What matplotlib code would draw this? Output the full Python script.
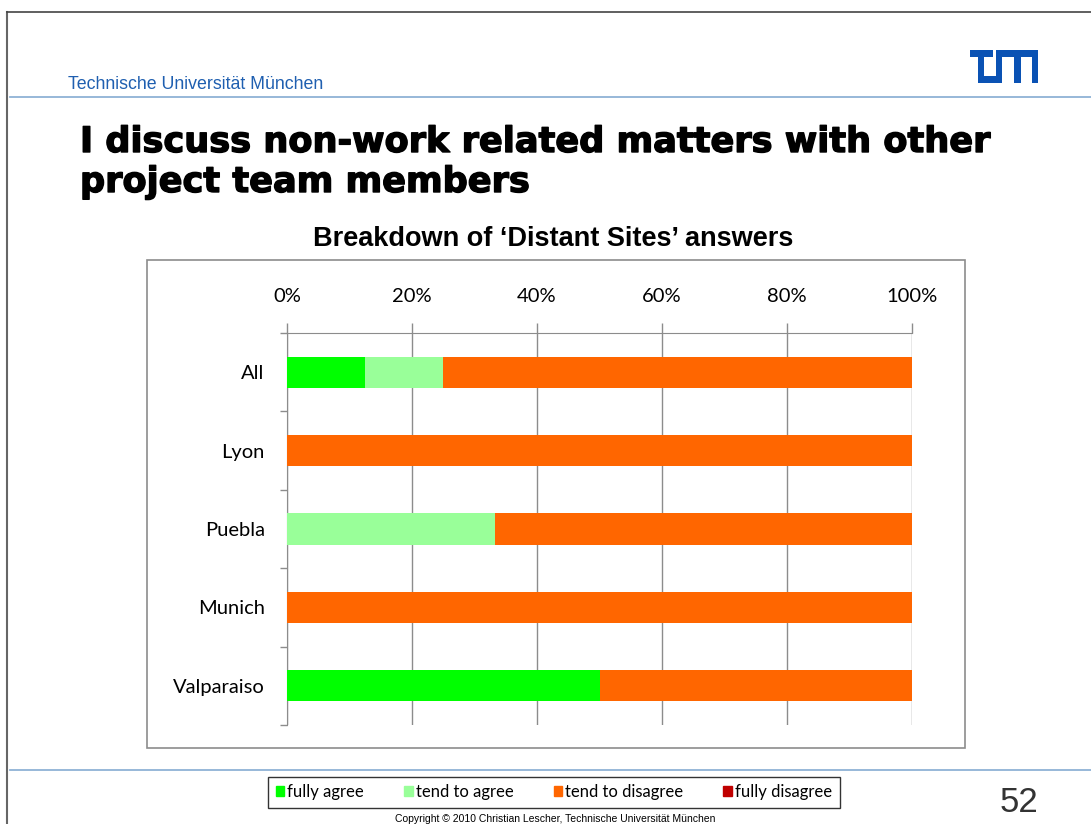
"""Stacked bar slide: non-work talk with project team members"""

import numpy as np
import matplotlib
matplotlib.use('Agg')
import matplotlib.pyplot as plt
import matplotlib.patheffects as pe
from matplotlib.patches import Rectangle
from matplotlib.lines import Line2D

# Data (percent of answers)
categories = ['All', 'Lyon', 'Puebla', 'Munich', 'Valparaiso']
fully_agree = [12.5, 0, 0, 0, 50]
tend_agree = [12.5, 0, 33.3, 0, 0]
tend_disagree = [75, 100, 66.7, 100, 50]
fully_disagree = [0, 0, 0, 0, 0]
series_names = ['fully agree', 'tend to agree', 'tend to disagree', 'fully disagree']
series_colors = ['#00ff00', '#99ff99', '#ff6600', '#c00000']
x_ticks = [0, 20, 40, 60, 80, 100]

W, H = 1091, 824
fig = plt.figure(figsize=(W / 100, H / 100), dpi=100)

def fx(x):
    return x / W

def fy(y):
    return 1 - y / H

# Slide frame and header / footer rules
fig.add_artist(Line2D([fx(7), fx(7)], [fy(12), 0], color='#666666', lw=1.5))
fig.add_artist(Line2D([fx(7), 1], [fy(12), fy(12)], color='#444444', lw=1.2))
fig.add_artist(Line2D([fx(10), 1], [fy(97), fy(97)], color='#8fb2d6', lw=1.3))
fig.add_artist(Line2D([fx(10), 1], [fy(770), fy(770)], color='#8fb2d6', lw=1.3))

fig.text(fx(68), fy(89), 'Technische Universität München', color='#1f5fb0',
         fontsize=12.8, family='Liberation Sans', va='baseline')

# TUM logo from rectangles (pixel offsets: x0, y0, x1, y1)
lx, ly = 970, 50
logo_blocks = [(0, 0, 23, 7), (7.5, 0, 14, 33), (7.5, 26, 32, 33),
               (26, 0, 32, 33), (26, 0, 68, 7), (44, 0, 50.5, 33),
               (61.5, 0, 68, 33)]
for x0, y0, x1, y1 in logo_blocks:
    fig.add_artist(Rectangle((fx(lx + x0), fy(ly + y1)),
                             (x1 - x0) / W, (y1 - y0) / H, color='#0a52b4', lw=0))

# Slide title
heavy = [pe.withStroke(linewidth=1.0, foreground='black')]
fig.text(fx(80), fy(152), 'I discuss non-work related matters with other',
         fontsize=25.3, weight='bold', family='DejaVu Sans', va='baseline',
         path_effects=heavy)
fig.text(fx(80), fy(192), 'project team members',
         fontsize=25.3, weight='bold', family='DejaVu Sans', va='baseline',
         path_effects=heavy)

# Chart area frame
fig.add_artist(Rectangle((fx(147), fy(748)), (965 - 147) / W, (748 - 260) / H,
                         fill=False, edgecolor='#8c8c8c', lw=1.2))
fig.text(fx(553), fy(239), 'Breakdown of \u2018Distant Sites\u2019 answers',
         fontsize=19.5, weight='bold', family='Liberation Sans',
         ha='center', va='center')

ax = fig.add_axes([fx(287), fy(725), (912 - 287) / W, (725 - 333) / H])
y = np.arange(len(categories))
left = np.zeros(len(categories))
for vals, name, col in zip([fully_agree, tend_agree, tend_disagree, fully_disagree],
                           series_names, series_colors):
    ax.barh(y, vals, left=left, height=0.4, color=col, label=name, zorder=3)
    left += np.array(vals)

ax.set_xlim(0, 100)
ax.set_ylim(len(categories) - 0.5, -0.5)
ax.xaxis.tick_top()
ax.set_xticks(x_ticks)
ax.set_xticklabels([f'{t}%' for t in x_ticks], family='Lato', fontsize=14.5)
ax.tick_params(axis='x', length=7, width=1, color='#8c8c8c', pad=13)
ax.set_yticks(y)
ax.set_yticklabels(categories, family='Lato', fontsize=14.5)
ax.tick_params(axis='y', length=0, pad=16)
ax.set_yticks(np.arange(-0.5, len(categories)), minor=True)
ax.tick_params(axis='y', which='minor', length=5, width=1, color='#8c8c8c')
ax.grid(axis='x', color='#8c8c8c', lw=1, zorder=0)
for s in ['right', 'bottom']:
    ax.spines[s].set_visible(False)
for s in ['left', 'top']:
    ax.spines[s].set_color('#8c8c8c')

# Legend below the chart
handles = [Rectangle((0, 0), 1, 1, color=c) for c in series_colors]
leg = fig.legend(handles, series_names, ncol=4, loc='center',
                 bbox_to_anchor=(fx(554), fy(792)), frameon=True, fancybox=False,
                 edgecolor='black', handlelength=0.5, handleheight=0.5,
                 handletextpad=0.2, columnspacing=2.4, borderpad=0.45,
                 prop={'family': 'Lato', 'size': 12})
leg.get_frame().set_linewidth(1.0)

fig.text(fx(555), fy(823.5), 'Copyright \u00a9 2010 Christian Lescher, Technische Universität München',
         fontsize=7.5, family='Liberation Sans', ha='center', va='bottom')
fig.text(fx(1019), fy(803), '52', fontsize=25, color='#333333',
         family='Liberation Sans', ha='center', va='center')

fig.savefig('out.png', dpi=100)
